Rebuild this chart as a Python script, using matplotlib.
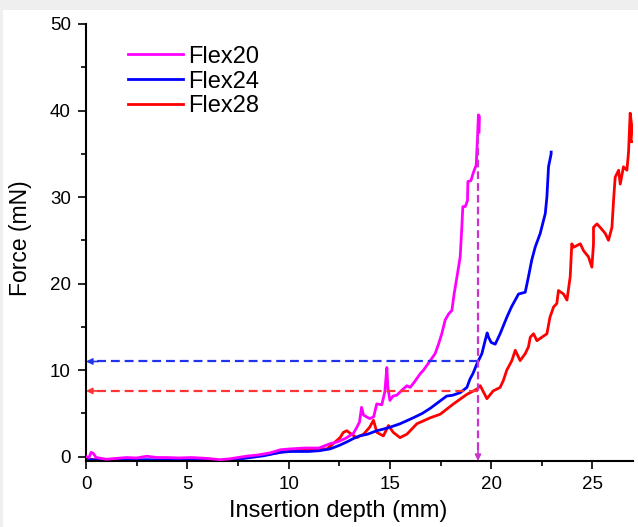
import matplotlib
matplotlib.use("Agg")
import matplotlib.pyplot as plt
from matplotlib.patches import Rectangle
from matplotlib.ticker import MultipleLocator

plt.rcParams['font.family'] = ['Liberation Sans', 'DejaVu Sans']

# Flex20 (magenta)
flex20_x = [0.0, 0.15, 0.25, 0.35, 0.5, 1.0, 1.5, 2.0, 2.5, 3.0, 3.5, 4.0, 4.6, 5.2, 6.0, 6.6,
            7.1, 7.9, 8.5, 9.1, 9.6, 10.1, 10.8, 11.5, 12.05, 12.4, 12.8, 13.2, 13.37, 13.5,
            13.6, 13.7, 14.0, 14.2, 14.35, 14.6, 14.75, 14.85, 14.9, 15.0, 15.15, 15.34, 15.6,
            15.84, 16.0, 16.2, 16.5, 16.66, 16.99, 17.23, 17.4, 17.56, 17.73, 17.9, 18.06, 18.17,
            18.34, 18.47, 18.55, 18.6, 18.72, 18.83, 18.85, 19.0, 19.13, 19.26, 19.32, 19.37,
            19.42, 19.4]
flex20_y = [0.0, -0.1, 0.5, 0.4, -0.1, -0.3, -0.2, -0.1, -0.15, 0.05, -0.1, -0.1, -0.15, -0.1,
            -0.2, -0.35, -0.25, 0.05, 0.2, 0.45, 0.8, 0.9, 1.0, 1.0, 1.5, 1.7, 2.1, 2.7, 3.4, 4.0,
            5.7, 4.8, 4.4, 4.6, 6.1, 6.0, 7.5, 10.3, 8.0, 6.5, 7.0, 7.1, 7.7,
            8.2, 8.0, 8.6, 9.6, 10.0, 11.1, 11.9, 13.0, 14.2, 15.8, 16.5, 16.9, 18.8,
            21.2, 23.1, 26.5, 28.9, 28.9, 29.6, 31.8, 31.9, 32.9, 33.7, 36.6, 39.5,
            39.3, 37.5]

# Flex24 (blue)
flex24_x = [0.0, 0.5, 1.0, 2.0, 3.0, 4.0, 5.0, 6.0, 7.1, 7.8, 8.76, 9.58, 10.1, 11.0, 11.55,
            12.05, 12.5, 12.87, 13.2, 13.5, 13.9, 14.36, 14.7, 15.0, 15.5, 16.16, 16.6, 17.0,
            17.4, 17.8, 18.1, 18.47, 18.8, 18.96, 19.1, 19.29, 19.54, 19.7, 19.8, 19.87, 20.0,
            20.2, 20.44, 20.77, 21.0, 21.35, 21.68, 21.84, 22.0, 22.17, 22.42, 22.67, 22.75,
            22.83, 22.96, 22.96]
flex24_y = [-0.3, -0.4, -0.5, -0.4, -0.35, -0.4, -0.35, -0.45, -0.45, -0.2, 0.1, 0.5, 0.6, 0.6,
            0.7, 0.9, 1.3, 1.7, 2.1, 2.4, 2.6, 3.0, 3.2, 3.4, 3.8, 4.5, 5.0, 5.6,
            6.3, 7.0, 7.1, 7.4, 8.0, 9.0, 9.6, 10.7, 11.9, 13.4, 14.3, 13.8, 13.2,
            13.0, 14.2, 16.1, 17.3, 18.8, 19.0, 20.8, 22.7, 24.2, 25.8, 28.1, 30.0,
            33.5, 35.0, 35.2]

# Flex28 (red)
flex28_x = [0.0, 0.5, 1.0, 2.0, 3.0, 4.0, 5.0, 6.0, 7.0, 7.8, 8.8, 9.6, 10.1, 11.0, 11.55, 11.9,
            12.2, 12.54, 12.7, 12.87, 13.1, 13.37, 13.7, 14.0, 14.19, 14.36, 14.68, 14.93, 15.17,
            15.5, 15.84, 16.33, 17.0, 17.48, 18.14, 18.8, 19.29, 19.46, 19.79, 20.1, 20.44, 20.6,
            20.77, 21.02, 21.19, 21.43, 21.68, 21.84, 21.93, 22.09, 22.26, 22.5, 22.75, 22.9,
            23.08, 23.24, 23.32, 23.57, 23.74, 23.9, 23.98, 24.07, 24.4, 24.56, 24.8, 24.97,
            25.05, 25.05, 25.22, 25.38, 25.63, 25.79, 25.96, 26.04, 26.12, 26.29, 26.37, 26.53,
            26.7, 26.78, 26.86, 26.95, 26.9, 27.0]
flex28_y = [-0.3, -0.35, -0.45, -0.4, -0.5, -0.4, -0.4, -0.45, -0.4, -0.1, 0.2, 0.5, 0.8, 0.8,
            0.9, 0.9, 1.5, 2.2, 2.8, 3.0, 2.6, 2.2, 2.6, 3.4, 4.2, 2.8, 2.4, 3.6, 2.8,
            2.2, 2.6, 3.8, 4.5, 4.9, 6.1, 7.2, 7.8, 8.2, 6.7, 7.6, 8.0, 8.8,
            10.0, 11.1, 12.3, 11.1, 11.9, 12.7, 13.8, 14.2, 13.4, 13.8, 14.2, 16.1,
            17.3, 17.7, 19.2, 18.8, 18.1, 20.8, 24.6, 24.2, 24.6, 23.8, 23.1, 21.9,
            24.6, 26.5, 26.9, 26.5, 25.8, 25.0, 26.5, 29.6, 32.3, 33.1, 31.5, 33.5,
            33.1, 35.2, 39.7, 38.0, 36.4, 36.4]

# Guide lines: depth where Flex20 reaches its max, and the forces of the others there
guide_depth = 19.35
guide_top = 37.0
blue_force = 11.0
red_force = 7.6

fig = plt.figure(figsize=(6.38, 5.27), dpi=100, facecolor='#efefef')
fig.patches.append(Rectangle((3 / 638, 0), 1, (527 - 10) / 527, transform=fig.transFigure,
                             facecolor='white', edgecolor='none', zorder=-10))
ax = fig.add_axes([86 / 638, 66 / 527, (633 - 86) / 638, (461 - 24) / 527])
ax.set_facecolor('white')

ax.plot(flex20_x, flex20_y, color='#ff00ff', linewidth=2.0, label='Flex20', zorder=3)
ax.plot(flex24_x, flex24_y, color='#0000ff', linewidth=2.0, label='Flex24', zorder=2)
ax.plot(flex28_x, flex28_y, color='#ff0000', linewidth=2.0, label='Flex28', zorder=1)

# dashed guide lines with arrow heads
ax.plot([guide_depth, 0.3], [blue_force, blue_force], color='#2233ee', linewidth=1.6,
        linestyle=(0, (4, 2.2)), zorder=4)
ax.plot([guide_depth, 0.3], [red_force, red_force], color='#ff3333', linewidth=1.6,
        linestyle=(0, (4, 2.2)), zorder=4)
ax.plot([guide_depth, guide_depth], [guide_top, 0.6], color='#cc33cc', linewidth=1.6,
        linestyle=(0, (3.5, 1.8)), zorder=4)
for (x0, y0, x1, y1, c) in [(0.6, blue_force, 0.0, blue_force, '#2233ee'),
                            (0.6, red_force, 0.0, red_force, '#ff3333'),
                            (guide_depth, 1.5, guide_depth, -0.5, '#cc33cc')]:
    ax.annotate('', xy=(x1, y1), xytext=(x0, y0),
                arrowprops=dict(arrowstyle='-|>', color=c, lw=1.2, mutation_scale=9,
                                shrinkA=0, shrinkB=0), zorder=5)

ax.set_xlim(0, 27.0)
ax.set_ylim(-0.5, 50)
ax.xaxis.set_major_locator(MultipleLocator(5))
ax.xaxis.set_minor_locator(MultipleLocator(2.5))
ax.yaxis.set_major_locator(MultipleLocator(10))
ax.yaxis.set_minor_locator(MultipleLocator(5))

ax.spines['top'].set_visible(False)
ax.spines['right'].set_visible(False)
ax.spines['left'].set_linewidth(1.5)
ax.spines['bottom'].set_linewidth(1.5)
ax.tick_params(which='major', direction='out', length=6, width=1.2, labelsize=13.5, pad=5)
ax.tick_params(which='minor', direction='out', length=3.5, width=1.2)

ax.set_xlabel('Insertion depth (mm)', fontsize=17)
ax.xaxis.set_label_coords(0.461, -0.089)
ax.set_ylabel('Force (mN)', fontsize=16.5)
ax.yaxis.set_label_coords(-0.099, 0.51)

ax.legend(loc='upper left', bbox_to_anchor=(0.06, 0.972), frameon=False, fontsize=17,
          handlelength=2.3, handletextpad=0.25, labelspacing=0.12, borderaxespad=0)

fig.savefig('out.png', dpi=100, facecolor=fig.get_facecolor())
